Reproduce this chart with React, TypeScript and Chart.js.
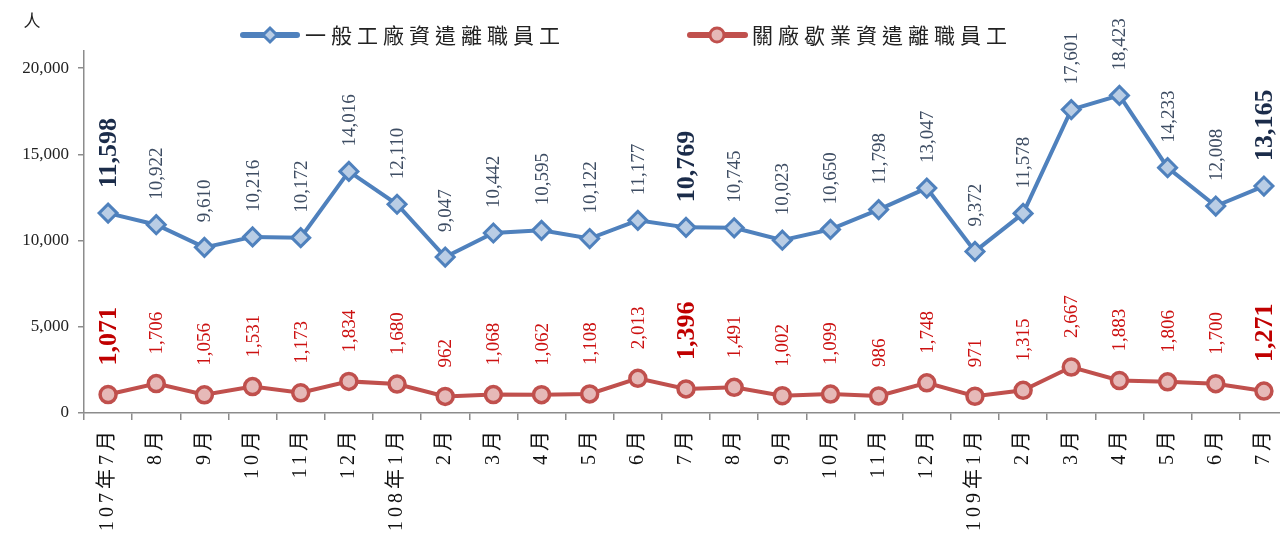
import React, { useEffect, useRef } from "react";
import { Chart, registerables } from "chart.js";
Chart.register(...registerables);

const categories = [
  "107年7月", "8月", "9月", "10月", "11月", "12月",
  "108年1月", "2月", "3月", "4月", "5月", "6月", "7月", "8月", "9月", "10月", "11月", "12月",
  "109年1月", "2月", "3月", "4月", "5月", "6月", "7月",
];
const generalLayoff = [
  11598, 10922, 9610, 10216, 10172, 14016, 12110, 9047, 10442, 10595, 10122, 11177,
  10769, 10745, 10023, 10650, 11798, 13047, 9372, 11578, 17601, 18423, 14233, 12008, 13165,
];
const closureLayoff = [
  1071, 1706, 1056, 1531, 1173, 1834, 1680, 962, 1068, 1062, 1108, 2013,
  1396, 1491, 1002, 1099, 986, 1748, 971, 1315, 2667, 1883, 1806, 1700, 1271,
];
const yTickValues = [0, 5000, 10000, 15000, 20000];
const highlightIdx = [0, 12, 24];
const seriesNames = ["一般工廠資遣離職員工", "關廠歇業資遣離職員工"];
const unitLabel = "人";

const BLUE = "#4F81BD";
const BLUE_FILL = "#B9CDE5";
const RED = "#C0504D";
const RED_FILL = "#E6B9B8";
const SERIF = "'Liberation Serif', 'Noto Sans CJK TC', serif";
const CJK = "'Noto Sans CJK TC', 'Liberation Serif', serif";

const fmt = (v: number) => v.toLocaleString("en-US");

const overlayPlugin = {
  id: "overlay",
  beforeDraw(chart: any) {
    (chart.ctx as any).letterSpacing = "4px";
  },
  beforeDatasetsDraw(chart: any) {
    (chart.ctx as any).letterSpacing = "0px";
  },
  afterDatasetsDraw(chart: any) {
    const ctx = chart.ctx as CanvasRenderingContext2D;
    const cfgs = [
      { gap: 25, color: "#3E4D63", bold: "#1B2C4A" },
      { gap: 29, color: "#CC1111", bold: "#C00000" },
    ];
    chart.data.datasets.forEach((ds: any, di: number) => {
      const meta = chart.getDatasetMeta(di);
      const c = cfgs[di];
      meta.data.forEach((pt: any, i: number) => {
        const isBold = highlightIdx.includes(i);
        ctx.save();
        ctx.translate(pt.x, pt.y - c.gap);
        ctx.rotate(-Math.PI / 2);
        ctx.textAlign = "left";
        ctx.textBaseline = "middle";
        ctx.font = isBold ? `bold 26px ${SERIF}` : `19px ${SERIF}`;
        ctx.fillStyle = isBold ? c.bold : c.color;
        ctx.fillText(fmt(ds.data[i]), 0, 1);
        ctx.restore();
      });
    });
  },
  afterDraw(chart: any) {
    const ctx = chart.ctx as CanvasRenderingContext2D;
    (ctx as any).letterSpacing = "0px";
    // unit label
    ctx.save();
    ctx.font = `17px ${CJK}`;
    ctx.fillStyle = "#222";
    ctx.textAlign = "center";
    ctx.textBaseline = "middle";
    ctx.fillText(unitLabel, 32, 21);
    ctx.restore();

    // legend
    const items = [
      { x0: 243, x1: 297, mx: 270, tx: 305, color: BLUE, fill: BLUE_FILL, shape: "diamond", text: seriesNames[0] },
      { x0: 690, x1: 745, mx: 717, tx: 752, color: RED, fill: RED_FILL, shape: "circle", text: seriesNames[1] },
    ];
    const ly = 35;
    items.forEach((it) => {
      ctx.save();
      ctx.strokeStyle = it.color;
      ctx.lineWidth = 6;
      ctx.lineCap = "round";
      ctx.beginPath();
      ctx.moveTo(it.x0, ly);
      ctx.lineTo(it.x1, ly);
      ctx.stroke();
      ctx.fillStyle = it.fill;
      ctx.lineWidth = 3;
      ctx.beginPath();
      if (it.shape === "diamond") {
        const r = 7;
        ctx.moveTo(it.mx, ly - r);
        ctx.lineTo(it.mx + r, ly);
        ctx.lineTo(it.mx, ly + r);
        ctx.lineTo(it.mx - r, ly);
        ctx.closePath();
      } else {
        ctx.arc(it.mx, ly, 7, 0, Math.PI * 2);
      }
      ctx.fill();
      ctx.stroke();
      ctx.font = `21px ${CJK}`;
      (ctx as any).letterSpacing = "5px";
      ctx.fillStyle = "#222";
      ctx.textAlign = "left";
      ctx.textBaseline = "middle";
      ctx.fillText(it.text, it.tx, ly);
      ctx.restore();
    });
  },
};

export default function App() {
  const ref = useRef<HTMLCanvasElement | null>(null);
  useEffect(() => {
    if (!ref.current) return;
    const chart = new Chart(ref.current, {
      type: "line",
      data: {
        labels: categories,
        datasets: [
          {
            label: seriesNames[0],
            data: generalLayoff,
            borderColor: BLUE,
            backgroundColor: BLUE_FILL,
            borderWidth: 4,
            pointStyle: "rectRot",
            pointRadius: 9,
            pointBorderWidth: 3,
            pointBorderColor: BLUE,
            pointBackgroundColor: BLUE_FILL,
            tension: 0,
          },
          {
            label: seriesNames[1],
            data: closureLayoff,
            borderColor: RED,
            backgroundColor: RED_FILL,
            borderWidth: 4,
            pointStyle: "circle",
            pointRadius: 8,
            pointBorderWidth: 3.5,
            pointBorderColor: RED,
            pointBackgroundColor: RED_FILL,
            tension: 0,
          },
        ],
      },
      options: {
        responsive: false,
        animation: false,
        layout: { padding: { top: 51, left: 0, right: 0, bottom: 0 } },
        plugins: { legend: { display: false }, tooltip: { enabled: false } },
        scales: {
          x: {
            offset: true,
            grid: { drawOnChartArea: false, drawTicks: true, tickLength: 7, offset: true, color: "#8C8C8C", lineWidth: 1.5 },
            border: { color: "#8C8C8C", width: 1.5 },
            ticks: {
              autoSkip: false,
              maxRotation: 90,
              minRotation: 90,
              padding: 7,
              color: "#111",
              font: { family: SERIF, size: 20 },
            },
            afterFit(scale: any) {
              scale.height = 120;
            },
          },
          y: {
            min: 0,
            max: 21000,
            grid: { drawOnChartArea: false, drawTicks: true, tickLength: 6, color: "#8C8C8C", lineWidth: 1.5 },
            border: { color: "#8C8C8C", width: 1.5 },
            afterBuildTicks(scale: any) {
              scale.ticks = yTickValues.map((v) => ({ value: v }));
            },
            ticks: {
              z: 1,
              padding: 9,
              color: "#222",
              font: { family: SERIF, size: 17 },
              callback: (v: any) => fmt(Number(v)),
            },
            afterFit(scale: any) {
              scale.width = 84;
            },
          },
        },
      },
      plugins: [overlayPlugin],
    } as any);
    return () => chart.destroy();
  }, []);
  return (
    <div style={{ position: "fixed", left: 0, top: 0, width: 1300, height: 533, background: "#fff" }}>
      <canvas ref={ref} width={1300} height={533} style={{ display: "block" }} />
    </div>
  );
}
